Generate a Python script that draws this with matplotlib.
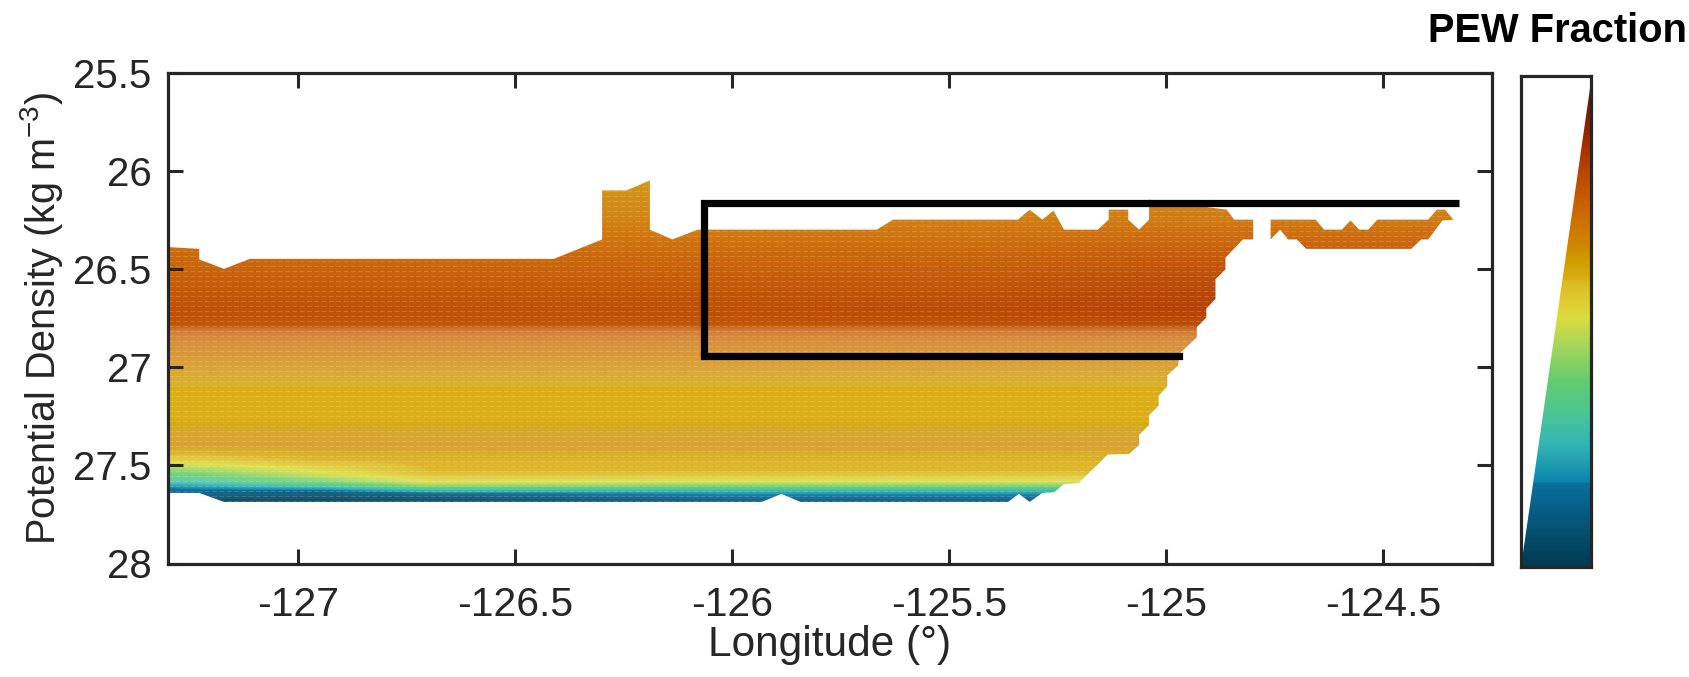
import numpy as np
import matplotlib
matplotlib.use("Agg")
import matplotlib.pyplot as plt
from matplotlib.colors import LinearSegmentedColormap
from matplotlib.patches import Polygon

plt.rcParams['font.family'] = ['Liberation Sans', 'DejaVu Sans']
plt.rcParams['mathtext.fontset'] = 'custom'
plt.rcParams['mathtext.rm'] = 'Liberation Sans'
plt.rcParams['mathtext.default'] = 'regular'
plt.rcParams['axes.unicode_minus'] = False

# ---------- data ----------
density_levels = [26.0, 26.25, 26.4, 26.55, 26.7, 26.78, 26.815, 26.86, 26.98, 27.05, 27.09, 27.10, 27.25,
                  27.29, 27.30, 27.4, 27.47, 27.54, 27.58, 27.605, 27.63, 27.65, 27.69]
column_lons = [-127.3, -126.95, -126.7, -126.0, -125.4, -125.0, -124.3]
frac_w0 = [.64, .69, .73, .76, .785, .78, .75, .72, .66, .63, .62, .59, .585, .60, .63, .65, .55, .38, .28, .20, .14, .08, .03]
frac_w1 = [.64, .69, .73, .76, .785, .78, .75, .72, .66, .63, .62, .59, .585, .60, .63, .65, .59, .50, .40, .30, .14, .05, .03]
frac_w2 = [.64, .69, .73, .76, .785, .78, .75, .72, .66, .63, .62, .59, .585, .60, .63, .65, .60, .58, .52, .42, .25, .08, .04]
frac_c0 = [.64, .69, .73, .765, .79, .78, .75, .72, .66, .63, .62, .59, .585, .60, .63, .65, .60, .58, .51, .40, .25, .16, .08]
frac_c1 = [.64, .70, .74, .775, .80, .79, .755, .72, .66, .63, .62, .59, .585, .60, .63, .65, .60, .58, .51, .40, .25, .16, .08]
frac_c2 = [.65, .71, .76, .80, .82, .80, .76, .72, .66, .63, .62, .59, .585, .60, .63, .65, .60, .58, .51, .40, .25, .16, .08]
frac_e0 = [.65, .71, .76, .80, .82, .80, .76, .72, .66, .63, .62, .59, .585, .60, .63, .65, .60, .58, .51, .40, .25, .16, .08]
sheen = [.12, .08, .05, .04, .02, .03, .22, .24, .22, .20, .18, .02, .02, .02, .16, .20, .12, .10, .16, .05, .03, .10, .05]

main_top_lon = [-127.30, -127.228, -127.228, -127.171, -127.111, -126.411, -126.30, -126.30, -126.244, -126.19,
                -126.19, -126.138, -126.08, -125.667, -125.63, -125.342, -125.315, -125.286, -125.26, -125.236,
                -125.158, -125.133, -125.133, -125.088, -125.088, -125.063, -125.04, -125.04, -124.861, -124.844,
                -124.80, -124.80]
main_top_den = [26.386, 26.395, 26.449, 26.497, 26.446, 26.446, 26.347, 26.097, 26.097, 26.046,
                26.297, 26.347, 26.297, 26.297, 26.246, 26.246, 26.195, 26.246, 26.2, 26.297,
                26.297, 26.246, 26.195, 26.195, 26.246, 26.297, 26.246, 26.144, 26.195, 26.246,
                26.246, 26.347]
main_low_lon = [-124.824, -124.864, -124.864, -124.887, -124.887, -124.908, -124.908, -124.93, -124.93, -124.97,
                -124.973, -124.998, -124.998, -125.018, -125.018, -125.04, -125.04, -125.063, -125.063, -125.085,
                -125.135, -125.202, -125.236, -125.258, -125.286, -125.315, -125.34, -125.365, -125.843, -125.887,
                -125.932, -127.171, -127.228, -127.30]
main_low_den = [26.347, 26.44, 26.5, 26.55, 26.65, 26.70, 26.745, 26.795, 26.846, 26.93,
                26.99, 27.04, 27.095, 27.145, 27.195, 27.243, 27.294, 27.344, 27.395, 27.441,
                27.444, 27.59, 27.595, 27.636, 27.64, 27.686, 27.645, 27.686, 27.686, 27.645,
                27.686, 27.686, 27.64, 27.64]
east_lon = [-124.76, -124.656, -124.637, -124.596, -124.576, -124.556, -124.535, -124.514, -124.397, -124.377,
            -124.358, -124.339, -124.364, -124.397, -124.413, -124.436, -124.678, -124.70, -124.72, -124.738, -124.76]
east_den = [26.246, 26.246, 26.297, 26.297, 26.25, 26.297, 26.297, 26.246, 26.246, 26.195,
            26.195, 26.246, 26.25, 26.347, 26.347, 26.395, 26.395, 26.347, 26.347, 26.297, 26.347]

box_lon = [-124.325, -126.065, -126.065, -124.97]
box_den = [26.16, 26.16, 26.94, 26.94]

x_ticks = [-127, -126.5, -126, -125.5, -125, -124.5]
x_labels = ['-127', '-126.5', '-126', '-125.5', '-125', '-124.5']
y_ticks = [25.5, 26, 26.5, 27, 27.5, 28]
y_labels = ['25.5', '26', '26.5', '27', '27.5', '28']

cmap_pos = [0, .17, .172, .25, .31, .38, .455, .51, .583, .585, .62, .65, .72, .78, .845, .92, 1]
cmap_col = ['#023a50', '#0a6f9e', '#0c86aa', '#33b5b5', '#4cc595', '#64cc6e', '#a8d858', '#dedc3c', '#dcb820',
            '#dcae14', '#d0a000', '#cf8a00', '#cc6a00', '#c05000', '#ac3400', '#801c00', '#6a1000']

# ---------- figure ----------
W, H = 1690, 677
INK = '#262626'
cmap = LinearSegmentedColormap.from_list('pew', list(zip(cmap_pos, cmap_col)), N=512)

fig = plt.figure(figsize=(W / 100, H / 100), dpi=100)
ax = fig.add_axes([168 / W, 1 - 563.5 / H, (1492 - 168) / W, (563.5 - 73.4) / H])

field = np.array([frac_w0, frac_w1, frac_w2, frac_c0, frac_c1, frac_c2, frac_e0]).T

# Resample the table on a fine raster only for painting it smoothly
fine_den = np.linspace(density_levels[0], density_levels[-1], 700)
fine_lon = np.linspace(column_lons[0], column_lons[-1], 300)
per_col = np.array([np.interp(fine_den, density_levels, field[:, j]) for j in range(field.shape[1])]).T
fine_field = np.array([np.interp(fine_lon, column_lons, row) for row in per_col])
fine_veil = np.interp(fine_den, density_levels, sheen)[:, None, None]
rgb = cmap(fine_field)[..., :3] * (1 - fine_veil) + fine_veil

main_poly = Polygon(list(zip(main_top_lon + main_low_lon, main_top_den + main_low_den)), closed=True,
                    transform=ax.transData, fc='none', ec='none')
east_poly = Polygon(list(zip(east_lon, east_den)), closed=True, transform=ax.transData, fc='none', ec='none')
extent = [column_lons[0], column_lons[-1], density_levels[-1], density_levels[0]]
for poly in (main_poly, east_poly):
    ax.add_patch(poly)
    im = ax.imshow(rgb, extent=extent, origin='upper', aspect='auto', interpolation='bilinear', zorder=1)
    im.set_clip_path(poly)
    # fine pale striping seen in the filled field
    for d in np.arange(26.0, 27.7, 0.0255):
        ln, = ax.plot([column_lons[0], column_lons[-1]], [d, d], color='white', alpha=.16, lw=.7,
                      ls=(0, (5, 2.5)), zorder=1.5)
        ln.set_clip_path(poly)

ax.plot(box_lon[:3], box_den[:3], color='black', lw=5.2, solid_joinstyle='miter', solid_capstyle='butt', zorder=3)
ax.plot(box_lon[2:], box_den[2:], color='black', lw=5.2, solid_capstyle='projecting', zorder=3)

ax.set_xlim(-127.30, -124.25)
ax.set_ylim(28, 25.5)
ax.set_xticks(x_ticks, x_labels)
ax.set_yticks(y_ticks, y_labels)
ax.tick_params(direction='in', length=10.6, width=2.2, color=INK, labelcolor=INK, labelsize=29,
               top=True, right=True)
ax.tick_params(axis='x', pad=16, labelsize=29.5)
ax.tick_params(axis='y', pad=12)
for s in ax.spines.values():
    s.set_linewidth(2.3)
    s.set_color(INK)
ax.set_xlabel('Longitude (°)', fontsize=30.5, color=INK, labelpad=1)
ax.set_ylabel('Potential Density (kg m$^{-3}$)', fontsize=28.5, color=INK, labelpad=6)

# ---------- colour wedge ----------
cax = fig.add_axes([1521 / W, 1 - 567 / H, (1591 - 1521) / W, (567 - 76.5) / H])
cax.imshow(np.linspace(1, 0, 512)[:, None], cmap=cmap, vmin=0, vmax=1, aspect='auto', extent=[0, 1, 0, 1], zorder=1)
cax.add_patch(Polygon([(0, 0), (1, .99), (1, 1.01), (-.01, 1.01), (-.01, 0)], closed=True, fc='white', ec='none', zorder=2))
cax.set_xlim(0, 1)
cax.set_ylim(0, 1)
cax.set_xticks([])
cax.set_yticks([])
for s in cax.spines.values():
    s.set_linewidth(2.3)
    s.set_color(INK)
    s.set_zorder(5)

fig.text(1687 / W, 1 - 42 / H, 'PEW Fraction', ha='right', va='baseline', fontsize=28.7, fontweight='bold', color='black')
fig.savefig('out.png', dpi=100)
